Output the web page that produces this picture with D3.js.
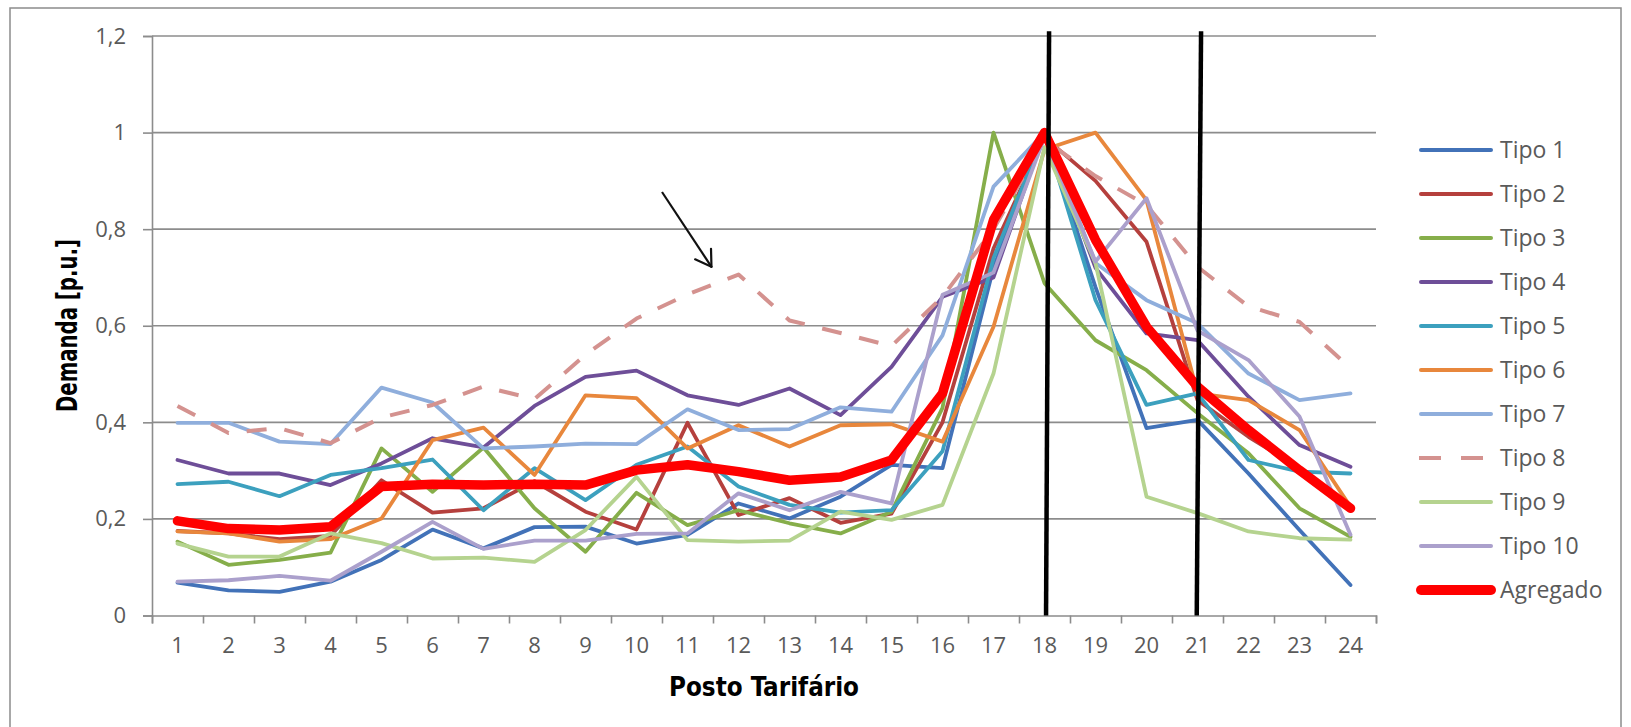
<!DOCTYPE html>
<html><head><meta charset="utf-8">
<script src="https://cdn.jsdelivr.net/npm/d3@7/dist/d3.min.js"></script>
<style>body{margin:0;background:#fff;} svg{display:block;}</style>
</head><body>
<svg id="chart" width="1631" height="727"></svg>
<script>
// ---------- data ----------
const categories = ["1","2","3","4","5","6","7","8","9","10","11","12","13","14","15","16","17","18","19","20","21","22","23","24"];
const yTickValues = [0, 0.2, 0.4, 0.6, 0.8, 1, 1.2];
const yTickLabels = ["0", "0,2", "0,4", "0,6", "0,8", "1", "1,2"];
const seriesNames = ["Tipo 1","Tipo 2","Tipo 3","Tipo 4","Tipo 5","Tipo 6","Tipo 7","Tipo 8","Tipo 9","Tipo 10","Agregado"];

const tipo1  = [0.068,0.052,0.049,0.070,0.115,0.178,0.139,0.183,0.184,0.149,0.167,0.232,0.201,0.246,0.312,0.305,0.720,1.000,0.680,0.388,0.405,0.294,0.177,0.063];
const tipo2  = [0.175,0.170,0.158,0.165,0.280,0.213,0.222,0.278,0.215,0.178,0.399,0.208,0.243,0.192,0.211,0.400,0.760,0.990,0.900,0.774,0.446,0.370,0.305,0.220];
const tipo3  = [0.153,0.105,0.115,0.130,0.346,0.256,0.348,0.222,0.132,0.254,0.187,0.218,0.191,0.170,0.215,0.430,1.000,0.688,0.570,0.508,0.419,0.336,0.222,0.163];
const tipo4  = [0.322,0.294,0.294,0.270,0.315,0.367,0.348,0.434,0.494,0.507,0.456,0.436,0.470,0.415,0.515,0.660,0.700,1.000,0.720,0.584,0.570,0.453,0.353,0.308];
const tipo5  = [0.272,0.277,0.247,0.291,0.305,0.323,0.218,0.305,0.239,0.312,0.350,0.267,0.229,0.213,0.218,0.340,0.740,1.000,0.653,0.436,0.460,0.322,0.298,0.294];
const tipo6  = [0.174,0.170,0.153,0.158,0.201,0.363,0.389,0.291,0.456,0.450,0.346,0.394,0.350,0.394,0.396,0.360,0.598,0.965,1.000,0.860,0.460,0.446,0.384,0.225];
const tipo7  = [0.399,0.399,0.360,0.355,0.472,0.441,0.346,0.350,0.356,0.355,0.427,0.384,0.386,0.431,0.422,0.580,0.888,1.000,0.730,0.653,0.605,0.501,0.446,0.460];
const tipo8  = [0.434,0.378,0.388,0.357,0.410,0.436,0.474,0.448,0.540,0.615,0.665,0.706,0.611,0.585,0.558,0.660,0.800,0.985,0.910,0.850,0.722,0.640,0.608,0.512];
const tipo9  = [0.149,0.122,0.122,0.170,0.150,0.118,0.120,0.111,0.177,0.287,0.156,0.153,0.155,0.215,0.198,0.229,0.501,0.970,0.730,0.246,0.212,0.174,0.160,0.157];
const tipo10 = [0.070,0.073,0.082,0.072,0.132,0.194,0.138,0.155,0.155,0.169,0.170,0.253,0.218,0.256,0.232,0.664,0.710,0.990,0.733,0.864,0.590,0.529,0.412,0.167];
const agregado = [0.196,0.180,0.177,0.184,0.267,0.272,0.270,0.272,0.270,0.301,0.312,0.298,0.280,0.287,0.322,0.460,0.819,1.000,0.778,0.598,0.474,0.384,0.301,0.222];

const seriesValues = [tipo1,tipo2,tipo3,tipo4,tipo5,tipo6,tipo7,tipo8,tipo9,tipo10,agregado];
const seriesColors = ["#4272B8","#B5403D","#86AE4A","#6E4E98","#3CA0BE","#E8873C","#8FAEDC","#D4928F","#B5D38F","#ABA0CC","#FF0000"];

// annotation positions in data units (category position, value)
const markerLines = [ {top:[18.09,1.21], bottom:[18.03,0]}, {top:[21.07,1.21], bottom:[20.985,0]} ];
const arrowFrom = [10.5, 0.877];
const arrowTo = [11.47, 0.722];

// ---------- layout ----------
const svg = d3.select("#chart");
const plot = {left:152, right:1376, top:36, bottom:615.5};

const x = d3.scaleBand().domain(categories).range([plot.left, plot.right]).padding(0);
const xPos = d3.scaleLinear().domain([0.5, 24.5]).range([plot.left, plot.right]);
const y = d3.scaleLinear().domain([0, 1.2]).range([plot.bottom, plot.top]);
const cx = c => x(c) + x.bandwidth()/2;

// outer border
svg.append("rect").attr("x",10).attr("y",8).attr("width",1611).attr("height",760)
  .attr("fill","none").attr("stroke","#8c8c8c").attr("stroke-width",1.5);

// gridlines
svg.append("g").selectAll("line").data(yTickValues.filter(v=>v>0)).join("line")
  .attr("x1",plot.left).attr("x2",plot.right)
  .attr("y1",d=>y(d)).attr("y2",d=>y(d))
  .attr("stroke","#8c8c8c").attr("stroke-width",1.6);

// y axis
const yAxis = d3.axisLeft(y).tickValues(yTickValues).tickSize(9).tickPadding(17)
  .tickFormat((d,i)=>yTickLabels[i]);
const gy = svg.append("g").attr("transform",`translate(${plot.left},0)`).call(yAxis);
gy.select(".domain").attr("stroke","#8c8c8c").attr("stroke-width",1.6);
gy.selectAll(".tick line").attr("stroke","#8c8c8c").attr("stroke-width",1.6);
gy.selectAll(".tick text").attr("fill","#5a5a5a").style("font-family","'Open Sans'").style("font-size","22px");

// x axis: tick marks at category boundaries
const boundaries = d3.range(0, categories.length+1).map(i => i + 0.5);
const xAxisTicks = d3.axisBottom(xPos).tickValues(boundaries).tickSize(8).tickFormat("");
const gx = svg.append("g").attr("transform",`translate(0,${plot.bottom})`).call(xAxisTicks);
gx.select(".domain").attr("stroke","#8c8c8c").attr("stroke-width",1.6);
gx.selectAll(".tick line").attr("stroke","#8c8c8c").attr("stroke-width",1.6);

// x axis labels
const xAxisLabels = d3.axisBottom(x).tickSize(0).tickPadding(22);
const gxl = svg.append("g").attr("transform",`translate(0,${plot.bottom})`).call(xAxisLabels);
gxl.select(".domain").remove();
gxl.selectAll(".tick text").attr("fill","#5a5a5a").style("font-family","'Open Sans'").style("font-size","22px");

// axis titles
svg.append("text").attr("x",669).attr("y",696)
  .attr("textLength",190).attr("lengthAdjust","spacingAndGlyphs")
  .style("font-family","'DejaVu Sans Condensed','DejaVu Sans'").style("font-weight","bold").style("font-size","26px")
  .attr("fill","#000").text("Posto Tarifário");

svg.append("text").attr("transform","translate(77,412) rotate(-90)")
  .attr("textLength",173).attr("lengthAdjust","spacingAndGlyphs")
  .style("font-family","'DejaVu Sans Condensed','DejaVu Sans'").style("font-weight","bold").style("font-size","28px")
  .attr("fill","#000").text("Demanda [p.u.]");

// series lines
const line = d3.line().x((d,i)=>cx(categories[i])).y(d=>y(d));
const gLines = svg.append("g");
seriesValues.forEach((vals, si) => {
  const isAgg = si === 10;
  const p = gLines.append("path").datum(vals).attr("d", line)
    .attr("fill","none").attr("stroke", seriesColors[si])
    .attr("stroke-width", isAgg ? 9.5 : 3.8)
    .attr("stroke-linejoin","round").attr("stroke-linecap","round");
  if (si === 7) p.attr("stroke-dasharray","20,18").attr("stroke-linecap","butt").attr("stroke-width",4);
});

// vertical marker lines
markerLines.forEach(m => {
  svg.append("line")
    .attr("x1", xPos(m.top[0])).attr("y1", y(m.top[1]))
    .attr("x2", xPos(m.bottom[0])).attr("y2", y(m.bottom[1]))
    .attr("stroke","#000").attr("stroke-width",4.5);
});

// arrow
const ax1 = xPos(arrowFrom[0]), ay1 = y(arrowFrom[1]);
const ax2 = xPos(arrowTo[0]), ay2 = y(arrowTo[1]);
svg.append("line").attr("x1",ax1).attr("y1",ay1).attr("x2",ax2).attr("y2",ay2)
  .attr("stroke","#111").attr("stroke-width",2.2);
const ang = Math.atan2(ay1-ay2, ax1-ax2);
const wingLen = 18, wingAng = 32*Math.PI/180;
[ang - wingAng, ang + wingAng].forEach(a => {
  svg.append("line").attr("x1",ax2).attr("y1",ay2)
    .attr("x2",ax2 + wingLen*Math.cos(a)).attr("y2",ay2 + wingLen*Math.sin(a))
    .attr("stroke","#111").attr("stroke-width",2.2).attr("stroke-linecap","round");
});

// legend
const legend = svg.append("g");
seriesNames.forEach((name, i) => {
  const ly = 150 + i*44;
  const isAgg = i === 10;
  const l = legend.append("line").attr("x1",1421).attr("x2",1491).attr("y1",ly).attr("y2",ly)
    .attr("stroke",seriesColors[i]).attr("stroke-width", isAgg ? 10 : 4).attr("stroke-linecap","round");
  if (i === 7) l.attr("x1",1419).attr("x2",1493).attr("stroke-dasharray","22,20").attr("stroke-linecap","butt");
  legend.append("text").attr("x",1500).attr("y",ly+8)
    .style("font-family","'Open Sans'").style("font-size","23px").attr("fill","#5a5a5a").text(name);
});
</script>
</body></html>
